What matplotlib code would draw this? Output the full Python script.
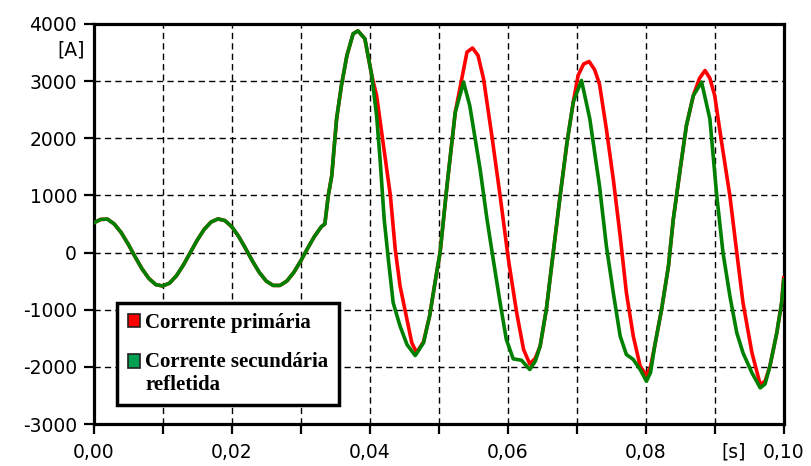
import matplotlib
matplotlib.use('Agg')
import matplotlib.pyplot as plt
from matplotlib.patches import Patch, Rectangle
from matplotlib.legend_handler import HandlerPatch
from matplotlib.ticker import FixedLocator, FuncFormatter

# tempo [s] e corrente [A]
t_prim = [0.000, 0.001, 0.002, 0.003, 0.004, 0.005, 0.006, 0.007, 0.008, 0.009,
          0.010, 0.011, 0.012, 0.013, 0.014, 0.015, 0.016, 0.017, 0.018, 0.019,
          0.020, 0.021, 0.022, 0.023, 0.024, 0.025, 0.026, 0.027, 0.028, 0.029,
          0.030, 0.031, 0.032, 0.033, 0.0335, 0.034, 0.0345, 0.0352, 0.0359, 0.0367,
          0.0376, 0.0383, 0.0393, 0.0403, 0.041, 0.042, 0.043, 0.0437, 0.0444, 0.0454,
          0.0461, 0.0468, 0.0478, 0.0487, 0.0497, 0.0502, 0.0512, 0.0524, 0.0536, 0.0541,
          0.0549, 0.0557, 0.0565, 0.0577, 0.0589, 0.0601, 0.0613, 0.0623, 0.0632, 0.0640,
          0.0647, 0.0656, 0.0666, 0.0676, 0.0686, 0.0695, 0.0702, 0.0710, 0.0718, 0.0726,
          0.0733, 0.0743, 0.0753, 0.0763, 0.0772, 0.0782, 0.0792, 0.0801, 0.0807, 0.0813,
          0.0823, 0.0833, 0.0840, 0.0850, 0.0859, 0.0869, 0.0878, 0.0886, 0.0893, 0.0900,
          0.0910, 0.0922, 0.0932, 0.0941, 0.0954, 0.0966, 0.0973, 0.0980, 0.0990, 0.0997,
          0.1000]
i_prim = [520, 580, 585, 498, 347, 147, -74, -284, -454, -561,
          -585, -534, -404, -217, 0, 217, 404, 534, 589, 561,
          454, 284, 74, -147, -347, -498, -575, -575, -498, -347,
          -147, 74, 284, 454, 500, 1000, 1344, 2339, 2923, 3450,
          3830, 3880, 3742, 3098, 2747, 1870, 993, 58, -586, -1170,
          -1579, -1750, -1560, -1100, -351, 0, 1168, 2456, 3200, 3509,
          3579, 3450, 3040, 2046, 993, -118, -1053, -1697, -1950, -1850,
          -1638, -995, 0, 993, 1930, 2632, 3098, 3300, 3344, 3200,
          2950, 2163, 1286, 292, -702, -1462, -1989, -2150, -2000, -1638,
          -995, -234, 584, 1461, 2222, 2747, 3050, 3186, 3050, 2747,
          1930, 993, 0, -877, -1754, -2310, -2250, -1989, -1404, -877,
          -439]

t_sec = [0.000, 0.001, 0.002, 0.003, 0.004, 0.005, 0.006, 0.007, 0.008, 0.009,
         0.010, 0.011, 0.012, 0.013, 0.014, 0.015, 0.016, 0.017, 0.018, 0.019,
         0.020, 0.021, 0.022, 0.023, 0.024, 0.025, 0.026, 0.027, 0.028, 0.029,
         0.030, 0.031, 0.032, 0.033, 0.0335, 0.034, 0.0345, 0.0352, 0.0359, 0.0367,
         0.0376, 0.0383, 0.0393, 0.0403, 0.041, 0.0415, 0.0421, 0.0427, 0.0434, 0.0444,
         0.0454, 0.0466, 0.0478, 0.0487, 0.0497, 0.0502, 0.0512, 0.0524, 0.0536, 0.0545,
         0.0560, 0.0570, 0.0579, 0.0589, 0.0598, 0.0608, 0.0620, 0.0632, 0.0640, 0.0647,
         0.0656, 0.0666, 0.0676, 0.0686, 0.0695, 0.0707, 0.0719, 0.0733, 0.0743, 0.0753,
         0.0763, 0.0772, 0.0782, 0.0792, 0.0801, 0.0807, 0.0813, 0.0823, 0.0833, 0.0840,
         0.0850, 0.0859, 0.0869, 0.0881, 0.0893, 0.0903, 0.0912, 0.0922, 0.0932, 0.0941,
         0.0954, 0.0966, 0.0973, 0.0980, 0.0990, 0.0997, 0.1000]
i_sec = [520, 580, 585, 498, 347, 147, -74, -284, -454, -561,
         -585, -534, -404, -217, 0, 217, 404, 534, 589, 561,
         454, 284, 74, -147, -347, -498, -575, -575, -498, -347,
         -147, 74, 284, 454, 500, 1000, 1344, 2339, 2923, 3450,
         3830, 3880, 3742, 3098, 2397, 1637, 584, -118, -877, -1287,
         -1609, -1802, -1579, -1100, -351, 0, 1168, 2456, 2982, 2572,
         1461, 584, -118, -877, -1520, -1860, -1884, -2047, -1900, -1638,
         -995, 0, 993, 1930, 2632, 3011, 2339, 1168, 117, -702,
         -1462, -1784, -1871, -2047, -2252, -2100, -1638, -995, -234, 584,
         1461, 2222, 2747, 2982, 2339, 993, 0, -760, -1404, -1754,
         -2105, -2368, -2300, -1989, -1404, -877, -480]

x_ticks = [0.00, 0.01, 0.02, 0.03, 0.04, 0.05, 0.06, 0.07, 0.08, 0.09, 0.10]
y_ticks = [-3000, -2000, -1000, 0, 1000, 2000, 3000, 4000]

fig = plt.figure(figsize=(8.11, 4.66), dpi=100)
ax = fig.add_axes([93.7 / 811, 42 / 466, 690 / 811, 400 / 466])

ax.plot(t_prim, i_prim, color='#ff0000', lw=2.6, zorder=3)
ax.plot(t_sec, i_sec, color='#008000', lw=2.6, zorder=4)

ax.set_xlim(0, 0.1)
ax.set_ylim(-3000, 4000)
ax.xaxis.set_major_locator(FixedLocator(x_ticks))
ax.yaxis.set_major_locator(FixedLocator(y_ticks))
ax.xaxis.set_major_formatter(FuncFormatter(
    lambda v, p: ('%.2f' % v).replace('.', ',') if p % 2 == 0 else ''))
ax.yaxis.set_major_formatter(FuncFormatter(lambda v, p: '%d' % v))
ax.grid(True, color='black', lw=1.0, linestyle=(0, (4.5, 3)))
ax.tick_params(direction='out', length=7, width=1.6, labelsize=13.5, pad=5,
               colors='black')
ax.tick_params(axis='x', pad=7)
for s in ax.spines.values():
    s.set_linewidth(2.3)

ax.text(-0.0013, 3550, '[A]', ha='right', va='center', fontsize=13.5)
ax.annotate('[s]', xy=(0.0927, 0), xycoords=('data', 'axes fraction'),
            xytext=(0, -13), textcoords='offset points', ha='center', va='top',
            fontsize=13.5)


# quadrado da legenda alinhado com a primeira linha do texto
def top_square(legend, orig_handle, xdescent, ydescent, width, height, fontsize):
    return Rectangle((-xdescent, -ydescent + 0.6 * fontsize), width, height)


handles = [Patch(facecolor='#ff0000', edgecolor='#202020', lw=1.2),
           Patch(facecolor='#00a050', edgecolor='#202020', lw=1.2)]
labels = ['Corrente primária', 'Corrente secundária\nrefletida']
leg = ax.legend(handles, labels, loc='lower left', bbox_to_anchor=(0.034, 0.047),
                borderaxespad=0, fancybox=False, framealpha=1, edgecolor='black',
                handlelength=0.6, handleheight=0.6, handletextpad=0.25,
                labelspacing=0.9, borderpad=0.5,
                handler_map={handles[1]: HandlerPatch(patch_func=top_square)},
                prop={'family': 'Liberation Serif', 'weight': 'bold', 'size': 15})
leg.get_frame().set_linewidth(2.5)
leg.set_zorder(5)

fig.savefig('out.png', dpi=100)
